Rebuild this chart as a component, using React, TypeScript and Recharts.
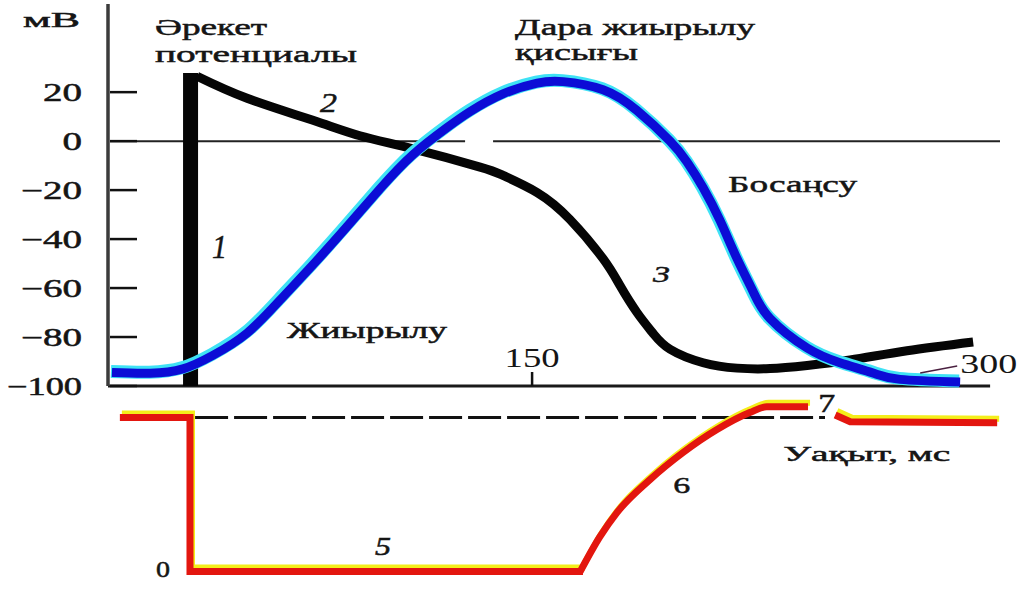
import { ComposedChart, Line, XAxis, YAxis, ReferenceLine, ReferenceDot } from "recharts";

// axis ticks
const mvTicks = [20, 0, -20, -40, -60, -80, -100];
const timeTicks = [150, 300];

// 1 – action potential upstroke
const spike = [
  { t: 29.2, mv: -100 },
  { t: 29.2, mv: 27.8 },
];

// 2, 3 – plateau and repolarisation
const actionPotential = [
  { t: 31.5, mv: 26.5 },
  { t: 49.2, mv: 17.5 },
  { t: 72.5, mv: 8.5 },
  { t: 89.1, mv: 2.2 },
  { t: 107.9, mv: -3.2 },
  { t: 131.6, mv: -10.6 },
  { t: 139.7, mv: -14 },
  { t: 151.8, mv: -21 },
  { t: 163.4, mv: -32 },
  { t: 175.1, mv: -48 },
  { t: 181.1, mv: -59 },
  { t: 187.1, mv: -70 },
  { t: 192.8, mv: -78.5 },
  { t: 198.8, mv: -85 },
  { t: 210.5, mv: -90.5 },
  { t: 222.5, mv: -92.7 },
  { t: 234.2, mv: -92.9 },
  { t: 247.3, mv: -91.6 },
  { t: 262.5, mv: -89.4 },
  { t: 282.6, mv: -85.6 },
  { t: 306, mv: -82 },
];

// single twitch curve
const twitch = [
  { t: 1.4, mv: -94.5 },
  { t: 14.9, mv: -94.8 },
  { t: 26.5, mv: -93 },
  { t: 37.1, mv: -87.5 },
  { t: 49.2, mv: -78.4 },
  { t: 60.8, mv: -65 },
  { t: 72.5, mv: -50.5 },
  { t: 84.5, mv: -35 },
  { t: 96.2, mv: -19.5 },
  { t: 107.9, mv: -5.5 },
  { t: 119.9, mv: 5.5 },
  { t: 128, mv: 12 },
  { t: 139.7, mv: 19.3 },
  { t: 151.8, mv: 23.7 },
  { t: 161, mv: 24.3 },
  { t: 175.1, mv: 21 },
  { t: 187.1, mv: 12.5 },
  { t: 198.8, mv: 0 },
  { t: 204.8, mv: -8.5 },
  { t: 210.5, mv: -19 },
  { t: 216.5, mv: -32.5 },
  { t: 222.5, mv: -48 },
  { t: 228.2, mv: -61.5 },
  { t: 234.2, mv: -72.5 },
  { t: 247.3, mv: -84.5 },
  { t: 258.9, mv: -90.5 },
  { t: 270.6, mv: -94.7 },
  { t: 280.2, mv: -97.3 },
  { t: 301.4, mv: -98.4 },
];

// excitability: 5 – refractory, 6 – relative, 7 – supernormal
const excitRest = [
  { t: 4.2, v: 100 },
  { t: 29, v: 100 },
  { t: 29, v: 0 },
  { t: 168, v: 0 },
];
const excitRecovery = [
  { t: 167, v: 0 },
  { t: 174, v: 22.7 },
  { t: 180, v: 38.3 },
  { t: 191.7, v: 59.7 },
  { t: 203.4, v: 77.3 },
  { t: 215.4, v: 92.2 },
  { t: 227, v: 103.2 },
  { t: 233, v: 107 },
  { t: 247.6, v: 107 },
];
const excitLate = [
  { t: 257.2, v: 101.6 },
  { t: 262.5, v: 97.2 },
  { t: 314.5, v: 96.6 },
];

const topNotes = [
  { t: -30.07, v: 46.6, text: "мВ", w: 57, size: 21 },
  { t: 16.63, v: 43.3, text: "Әрекет", w: 112, size: 24 },
  { t: 16.63, v: 32.3, text: "потенциалы", w: 202, size: 24 },
  { t: 143.97, v: 43.3, text: "Дара жиырылу", w: 240, size: 24 },
  { t: 143.97, v: 33.1, text: "қисығы", w: 123, size: 24 },
  { t: 219.3, v: -20.8, text: "Босаңсу", w: 129, size: 24 },
  { t: 63.3, v: -80.4, text: "Жиырылу", w: 160, size: 23 },
  { t: 75, v: 11.9, text: "2", w: 17, size: 28, italic: true },
  { t: 36.8, v: -47.7, text: "1", w: 15, size: 34, italic: true },
  { t: 192.8, v: -57.5, text: "3", w: 17, size: 24, italic: true },
];

const bottomNotes = [
  { t: 19.5, v: -3.5, text: "0", w: 14, size: 24 },
  { t: 94.4, v: 10.8, text: "5", w: 16, size: 26, italic: true },
  { t: 199.9, v: 51, text: "6", w: 17, size: 24 },
  { t: 251.2, v: 103.6, text: "7", w: 17, size: 26 },
  { t: 238.8, v: 71.8, text: "Уақыт, мс", w: 167, size: 22 },
];

const FONT = "'Liberation Serif', 'DejaVu Serif', serif";
const INK = "#151515";

function MvTick(props: any) {
  const { x, y, payload } = props;
  const val = payload.value as number;
  const label = val < 0 ? `\u2212${-val}` : String(val);
  const w = label
    .split("")
    .reduce((s, c) => s + (c === "\u2212" ? 22 : c === "1" ? 14 : 19.5), 0);
  return (
    <g>
      <line x1={x + 28} x2={x + 55} y1={y} y2={y} stroke="#111" strokeWidth={2.5} />
      <text
        x={x}
        y={y + 9}
        textAnchor="end"
        textLength={w}
        lengthAdjust="spacingAndGlyphs"
        fontFamily={FONT}
        fontSize={25}
        fill={INK}
        stroke={INK}
        strokeWidth={0.5}
      >
        {label}
      </text>
    </g>
  );
}

function TimeTick(props: any) {
  const { x, y, payload } = props;
  if (payload.value === 150) {
    return (
      <g>
        <line x1={x} x2={x} y1={y} y2={y - 14} stroke="#111" strokeWidth={2.5} />
        <text
          x={x}
          y={y - 19}
          textAnchor="middle"
          textLength={55}
          lengthAdjust="spacingAndGlyphs"
          fontFamily={FONT}
          fontSize={27}
          fill={INK}
        >
          {payload.value}
        </text>
      </g>
    );
  }
  return (
    <g>
      <line x1={x - 36} y1={y - 13} x2={x + 1} y2={y - 20} stroke="#4a2040" strokeWidth={1.5} />
      <text
        x={x + 4}
        y={y - 13}
        textLength={57}
        lengthAdjust="spacingAndGlyphs"
        fontFamily={FONT}
        fontSize={27}
        fill={INK}
      >
        {payload.value}
      </text>
    </g>
  );
}

function renderNote(n: any) {
  return (p: any) => (
    <text
      x={p.cx}
      y={p.cy}
      textAnchor={n.text === "0" ? "middle" : "start"}
      textLength={n.w}
      lengthAdjust="spacingAndGlyphs"
      fontFamily={FONT}
      fontSize={n.size}
      fontStyle={n.italic ? "italic" : "normal"}
      fill={INK}
      stroke={INK}
      strokeWidth={0.5}
    >
      {n.text}
    </text>
  );
}

const lineBase = {
  dot: false,
  activeDot: false,
  isAnimationActive: false,
  legendType: "none" as const,
};

export default function App() {
  return (
    <div style={{ position: "absolute", left: 0, top: 0, width: 1026, height: 592, background: "#fff" }}>
      <style>{`
        .edge-yellow { transform: translate(2px, -4px); }
        .edge-cyan { transform: translate(-1px, -1px); }
      `}</style>
      <div style={{ position: "absolute", left: 0, top: 0 }}>
        <ComposedChart width={1026} height={400} margin={{ top: 4, right: 26, left: 0, bottom: 8 }}>
          <XAxis
            type="number"
            dataKey="t"
            domain={[0, 315.5]}
            ticks={timeTicks}
            interval={0}
            height={6}
            axisLine={false}
            tickLine={false}
            tickSize={0}
            tickMargin={0}
            tick={<TimeTick />}
          />
          <YAxis
            type="number"
            domain={[-100, 56]}
            ticks={mvTicks}
            interval={0}
            width={108}
            axisLine={{ stroke: "#3b3b3b", strokeWidth: 3.5 }}
            tickLine={false}
            tickSize={0}
            tickMargin={26}
            tick={<MvTick />}
          />
          <ReferenceLine segment={[{ x: 0.7, y: 0 }, { x: 126.3, y: 0 }]} stroke="#222" strokeWidth={2} />
          <ReferenceLine segment={[{ x: 136.2, y: 0 }, { x: 315.5, y: 0 }]} stroke="#222" strokeWidth={2} />
          <ReferenceLine segment={[{ x: 0, y: -100 }, { x: 312, y: -100 }]} stroke="#1a1a1a" strokeWidth={3} />
          <Line {...lineBase} data={spike} dataKey="mv" type="linear" stroke="#050505" strokeWidth={15} />
          <Line {...lineBase} data={actionPotential} dataKey="mv" type="natural" stroke="#050505" strokeWidth={9} />
          <Line
            {...lineBase}
            className="edge-cyan"
            data={twitch}
            dataKey="mv"
            type="natural"
            stroke="#3fe2f5"
            strokeWidth={13}
          />
          <Line {...lineBase} data={twitch} dataKey="mv" type="natural" stroke="#0c0cd6" strokeWidth={9} />
          {topNotes.map((n) => (
            <ReferenceDot key={n.text} x={n.t} y={n.v} r={0} ifOverflow="visible" shape={renderNote(n)} />
          ))}
        </ComposedChart>
      </div>
      <div style={{ position: "absolute", left: 0, top: 386 }}>
        <ComposedChart width={1026} height={206} margin={{ top: 13, right: 26, left: 108, bottom: 5 }}>
          <XAxis type="number" dataKey="t" domain={[0, 315.5]} hide />
          <YAxis type="number" domain={[-10, 112]} hide />
          <ReferenceLine
            segment={[{ x: 30.8, y: 100 }, { x: 253.6, y: 100 }]}
            stroke="#111"
            strokeWidth={3}
            strokeDasharray="33 6"
          />
          {[excitRest, excitRecovery, excitLate].map((d, i) => (
            <Line
              key={`y${i}`}
              {...lineBase}
              className="edge-yellow"
              data={d}
              dataKey="v"
              type={i === 1 ? "monotone" : "linear"}
              stroke="#f4ee1a"
              strokeWidth={6}
            />
          ))}
          {[excitRest, excitRecovery, excitLate].map((d, i) => (
            <Line
              key={`r${i}`}
              {...lineBase}
              data={d}
              dataKey="v"
              type={i === 1 ? "monotone" : "linear"}
              stroke="#e3160f"
              strokeWidth={7}
            />
          ))}
          {bottomNotes.map((n) => (
            <ReferenceDot key={n.text} x={n.t} y={n.v} r={0} ifOverflow="visible" shape={renderNote(n)} />
          ))}
        </ComposedChart>
      </div>
    </div>
  );
}
